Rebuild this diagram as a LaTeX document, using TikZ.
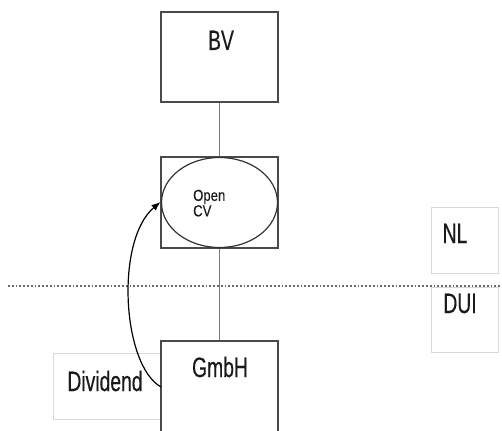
\documentclass[tikz,border=0pt]{standalone}
\usepackage{fontspec}
\setmainfont{Liberation Sans}
\newfontfamily\narrowfont[FakeStretch=0.69,FakeBold=0.3]{Liberation Sans}
\newfontfamily\cvfont[FakeStretch=0.82,FakeBold=0.3]{Liberation Sans}
\usetikzlibrary{arrows.meta,shapes.geometric}
\definecolor{boxgray}{HTML}{4A4A4A}
\definecolor{linegray}{HTML}{7A7A7A}
\definecolor{lightgray}{HTML}{D8D8D8}
\definecolor{txt}{HTML}{1A1A1A}
\definecolor{dotgray}{HTML}{6A6A6A}
\tikzset{
  bigbox/.style={draw=boxgray, line width=1.5pt, fill=white, rectangle, inner sep=0pt, minimum width=117pt},
  lightbox/.style={draw=lightgray, line width=1pt, fill=white, rectangle, inner sep=0pt},
  bigtext/.style={font=\narrowfont\fontsize{28}{30}\selectfont, text=txt, inner sep=0pt, anchor=base},
  conn/.style={draw=linegray, line width=1.1pt},
}
\begin{document}
\begin{tikzpicture}[x=1pt,y=-1pt]
\useasboundingbox (0,0) rectangle (502,430);
% top box
\node[bigbox, minimum height=90pt] (bv) at (219.5,57) {};
\node[bigtext] (bvt) at (221,50) {BV};
% middle box with ellipse
\node[bigbox, minimum height=91pt] (cv) at (219.5,202.5) {};
\node[ellipse, draw=black!80, line width=1.2pt, inner sep=0pt, minimum width=116pt, minimum height=90pt] (cve) at (219.5,202.5) {};
\node[font=\cvfont\fontsize{16}{13.5}\selectfont, text=txt, align=left, anchor=north west, inner sep=0pt] (cvt) at (193,189.5) {Open\\CV};
% connectors
\draw[conn] (bv.south) -- (cv.north);
% right side boxes
\node[lightbox, minimum width=67pt, minimum height=66pt] (nl) at (464.5,240) {};
\node[bigtext] (nlt) at (455,243) {NL};
\node[lightbox, minimum width=67pt, minimum height=65pt] (dui) at (464.5,319.5) {};
\node[bigtext] (duit) at (460,313) {DUI};
% dividend box
\node[lightbox, minimum width=120pt, minimum height=66pt] (div) at (113,386) {};
\node[bigtext] (divt) at (105,391) {Dividend};
% bottom box
\node[bigbox, minimum height=100pt] (gm) at (219.5,391) {};
\node[bigtext] (gmt) at (220,377) {GmbH};
\draw[conn] (cv.south) -- (gm.north);
% dotted boundary
\coordinate (dl) at (8,285.5);
\coordinate (dr) at (502,285.5);
\draw[draw=dotgray, line width=2pt, dash pattern=on 1.8pt off 2pt] (dl) -- (dr);
% dividend arrow
\coordinate (as) at (161,387);
\coordinate (ae) at (160.5,202);
\draw[black, line width=1.2pt, -{Latex[length=9pt,width=7pt]}] (as) .. controls (122,365) and (115,240) .. (ae);
\end{tikzpicture}
\end{document}
